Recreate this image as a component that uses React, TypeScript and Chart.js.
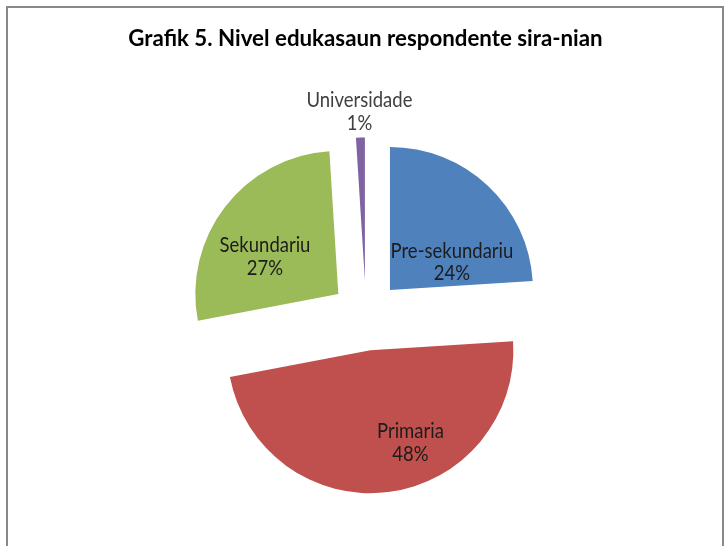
import React, { useEffect, useRef } from "react";
import { Chart, registerables } from "chart.js";

Chart.register(...registerables);

const TITLE = "Grafik 5. Nivel edukasaun respondente sira-nian";
const categories = ["Pre-sekundariu", "Primaria", "Sekundariu", "Universidade"];
const percentages = [24, 48, 27, 1];
const sliceColors = ["#4F81BD", "#C0504D", "#9BBB59", "#8064A2"];

// label placement relative to each exploded slice
const labelAngleShift = [19.5, -17.3, -8.0, 0];
const labelRadiusFrac = [0.488, 0.675, 0.591, 1.214];
const labelColors = ["#1c1c1c", "#1c1c1c", "#1c1c1c", "#404040"];

const W = 725;
const H = 546;
const RADIUS = 143;
const EXPLODE = 35;
const LABEL_FONT = "18.5px Lato, 'Open Sans', sans-serif";
const TITLE_FONT = "bold 22.3px Lato, 'Open Sans', sans-serif";
const LINE_GAP = 22.5;
const LABEL_STRETCH = 1.1;

const explodePlugin = {
  id: "explodeSlices",
  afterDatasetsUpdate(chart: any) {
    const meta = chart.getDatasetMeta(0);
    meta.data.forEach((arc: any) => {
      const mid = (arc.startAngle + arc.endAngle) / 2;
      arc.x += Math.cos(mid) * EXPLODE;
      arc.y += Math.sin(mid) * EXPLODE;
    });
  },
};

const labelPlugin = {
  id: "sliceLabels",
  afterDatasetsDraw(chart: any) {
    const ctx = chart.ctx;
    const meta = chart.getDatasetMeta(0);
    const values = chart.data.datasets[0].data as number[];
    meta.data.forEach((arc: any, i: number) => {
      const mid = (arc.startAngle + arc.endAngle) / 2 + (labelAngleShift[i] * Math.PI) / 180;
      const d = labelRadiusFrac[i] * arc.outerRadius;
      const x = arc.x + Math.cos(mid) * d;
      const y = arc.y + Math.sin(mid) * d;
      const lines = [chart.data.labels[i], `${values[i]}%`];
      lines.forEach((t: string, k: number) => {
        ctx.save();
        ctx.font = LABEL_FONT;
        ctx.textAlign = "center";
        ctx.textBaseline = "alphabetic";
        ctx.fillStyle = labelColors[i];
        ctx.translate(x, y + k * LINE_GAP);
        ctx.scale(1, LABEL_STRETCH);
        ctx.fillText(t, 0, 0);
        ctx.restore();
      });
    });
  },
};

const titlePlugin = {
  id: "chartTitleText",
  afterDraw(chart: any) {
    const ctx = chart.ctx;
    ctx.save();
    ctx.font = TITLE_FONT;
    ctx.fillStyle = "#000";
    ctx.textAlign = "center";
    ctx.textBaseline = "alphabetic";
    ctx.fillText(TITLE, 365.5, 46);
    ctx.restore();
  },
};

export default function App() {
  const ref = useRef<HTMLCanvasElement | null>(null);

  useEffect(() => {
    if (!ref.current) return;
    const chart = new Chart(ref.current, {
      type: "pie",
      data: {
        labels: categories,
        datasets: [
          {
            data: percentages,
            backgroundColor: sliceColors,
            borderWidth: 0,
          },
        ],
      },
      options: {
        responsive: false,
        animation: false,
        events: [],
        radius: RADIUS,
        layout: { padding: { left: 50, right: 43, top: 100, bottom: 15 } },
        plugins: {
          legend: { display: false },
          tooltip: { enabled: false },
          title: { display: false },
        },
      } as any,
      plugins: [explodePlugin, labelPlugin, titlePlugin],
    });
    return () => chart.destroy();
  }, []);

  return (
    <div style={{ position: "fixed", left: 0, top: 0, width: W, height: H, overflow: "hidden", background: "#fff" }}>
      <div
        style={{
          position: "absolute",
          left: 6,
          top: 6,
          width: 714,
          height: 700,
          border: "2px solid #888",
          boxSizing: "content-box",
        }}
      />
      <canvas ref={ref} width={W} height={H} style={{ position: "absolute", left: 0, top: 0 }} />
    </div>
  );
}
